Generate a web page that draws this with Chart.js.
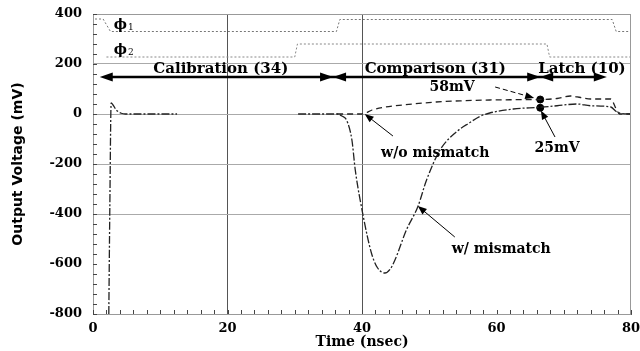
<!DOCTYPE html>
<html>
<head>
<meta charset="utf-8">
<script src="https://cdn.jsdelivr.net/npm/chart.js@4/dist/chart.umd.min.js"></script>
<style>
  body { margin: 0; background: #fff; }
  #wrap { width: 640px; height: 351px; }
</style>
</head>
<body>
<div id="wrap"><canvas id="chart"></canvas></div>
<script>
// Output of the comparator "w/ mismatch" (mV vs nsec)
const wmTime = [2.35, 2.5, 2.7, 3.0, 3.5, 4.2, 4.8, 12.5, 12.6, 30.5, 36.3, 37.0, 37.7, 38.5, 39.0, 40.2, 41.4, 42.3, 43.4, 44.2, 44.9, 46.6, 48.3, 49.6, 51.6, 54.1, 56.0, 57.5, 59.0, 62.5, 66.5, 69.0, 72.0, 74.0, 77.0, 77.8, 78.5, 80.0];
const wmVolt = [-800, -380, 44, 35, 15, 3, 0, 0, null, 0, 0, -8, -24, -104, -224, -411, -556, -615, -636, -620, -584, -464, -371, -264, -144, -70, -35, -10, 4, 20, 27, 33, 40, 33, 28, 10, 2, 0];

// "w/o mismatch"
const womTime = [36.3, 40.0, 41.5, 43.5, 46.0, 51.0, 55.0, 59.0, 62.0, 66.5, 69.0, 71.0, 72.5, 74.0, 77.0, 77.8, 78.3, 80.0];
const womVolt = [0, 0, 16, 28, 36, 48, 53, 56, 57, 58, 62, 72, 66, 60, 60, 20, 0, 0];

// clock phases (drawn on the voltage axis)
const phi1Time = [0.3, 1.5, 2.6, 36.2, 36.7, 77.2, 77.8, 80];
const phi1Volt = [380, 380, 330, 330, 378, 378, 330, 330];
const phi2Time = [2.0, 30.0, 30.4, 67.5, 67.9, 80];
const phi2Volt = [228, 228, 280, 280, 228, 228];

// sampled values at end of comparison
const markTime = [66.5, 66.5];
const markVolt = [58, 25];

// phase bars
const phaseBounds = [1, 35.7, 66.5, 76.4];
const phaseLevel = 148;
const phaseNames = ["Calibration (34)", "Comparison (31)", "Latch (10)"];
const phaseLabelTime = [19.0, 50.9, 72.7];
const phaseLabelVolt = 180;

const yMajor = [200, 0, -200, -400];
const xMajor = [20, 40];

function pts(t, v) {
    return t.map((x, i) => ({ x: x, y: v[i] }));
}

// text annotations: [text, time, volt]
const notes = [
    ["58mV", 53.4, 108],
    ["25mV", 69.0, -136],
    ["w/o mismatch", 50.9, -156],
    ["w/ mismatch", 60.7, -540],
];
// pointer arrows: [fromTime, fromVolt, toTime, toVolt, dashed]
const pointers = [
    [59.8, 108, 65.6, 64, true],
    [68.7, -92, 66.6, 14, false],
    [44.6, -88, 40.4, 0, false],
    [53.8, -492, 48.3, -368, false],
];

const serif = '"DejaVu Serif", "Liberation Serif", serif';

function head(ctx, x, y, ang, len, hw) {
    ctx.save();
    ctx.translate(x, y);
    ctx.rotate(ang);
    ctx.beginPath();
    ctx.moveTo(0, 0);
    ctx.lineTo(-len, -hw);
    ctx.lineTo(-len, hw);
    ctx.closePath();
    ctx.fill();
    ctx.restore();
}

const overlay = {
    id: "overlay",
    afterDraw(chart) {
        const { ctx, chartArea: a, scales: { x, y } } = chart;
        ctx.save();

        // frame
        ctx.strokeStyle = "#999";
        ctx.lineWidth = 1;
        ctx.strokeRect(a.left + 0.5, a.top + 0.5, a.right - a.left - 1, a.bottom - a.top);

        // inside tick marks
        ctx.strokeStyle = "#444";
        ctx.beginPath();
        x.ticks.forEach(t => {
            const px = Math.round(x.getPixelForValue(t.value)) + 0.5;
            ctx.moveTo(px, a.bottom);
            ctx.lineTo(px, a.bottom - 4);
        });
        y.ticks.forEach(t => {
            const py = Math.round(y.getPixelForValue(t.value)) + 0.5;
            ctx.moveTo(a.left, py);
            ctx.lineTo(a.left + 4, py);
        });
        ctx.stroke();

        // phase arrows
        const py = y.getPixelForValue(phaseLevel);
        const bx = phaseBounds.map(v => x.getPixelForValue(v));
        ctx.strokeStyle = "#000";
        ctx.fillStyle = "#000";
        ctx.lineWidth = 2.5;
        ctx.beginPath();
        ctx.moveTo(bx[0] + 6, py);
        ctx.lineTo(bx[bx.length - 1] - 6, py);
        ctx.stroke();
        for (let i = 0; i < bx.length - 1; i++) {
            head(ctx, bx[i], py, Math.PI, 13, 4.5);
            head(ctx, bx[i + 1], py, 0, 13, 4.5);
        }

        ctx.font = "bold 15px " + serif;
        ctx.textAlign = "center";
        ctx.textBaseline = "middle";
        phaseNames.forEach((n, i) => {
            ctx.fillText(n, x.getPixelForValue(phaseLabelTime[i]), y.getPixelForValue(phaseLabelVolt));
        });

        // phase labels
        const lx = x.getPixelForValue(3.1);
        [["\u03d5", "1", 356], ["\u03d5", "2", 256]].forEach(p => {
            const ly = y.getPixelForValue(p[2]);
            ctx.textAlign = "left";
            ctx.font = "bold 14px " + serif;
            ctx.fillText(p[0], lx, ly);
            const w = ctx.measureText(p[0]).width;
            ctx.font = "9px " + serif;
            ctx.fillText(p[1], lx + w + 1, ly + 3);
        });

        // notes
        ctx.font = "bold 14px " + serif;
        ctx.textAlign = "center";
        notes.forEach(n => {
            ctx.fillText(n[0], x.getPixelForValue(n[1]), y.getPixelForValue(n[2]));
        });

        // pointers
        ctx.lineWidth = 1;
        pointers.forEach(p => {
            const x0 = x.getPixelForValue(p[0]), y0 = y.getPixelForValue(p[1]);
            const x1 = x.getPixelForValue(p[2]), y1 = y.getPixelForValue(p[3]);
            const ang = Math.atan2(y1 - y0, x1 - x0);
            ctx.setLineDash(p[4] ? [5, 3] : []);
            ctx.beginPath();
            ctx.moveTo(x0, y0);
            ctx.lineTo(x1 - 6 * Math.cos(ang), y1 - 6 * Math.sin(ang));
            ctx.stroke();
            ctx.setLineDash([]);
            head(ctx, x1, y1, ang, 9, 3.5);
        });

        ctx.restore();
    }
};

const ctx = document.getElementById("chart").getContext("2d");
new Chart(ctx, {
    type: "line",
    data: {
        datasets: [
            {
                label: "w/ mismatch",
                data: pts(wmTime, wmVolt),
                borderColor: "#222",
                borderWidth: 1.3,
                borderDash: [8, 2, 2, 2],
                cubicInterpolationMode: "monotone",
                pointRadius: 0,
                spanGaps: false,
            },
            {
                label: "w/o mismatch",
                data: pts(womTime, womVolt),
                borderColor: "#222",
                borderWidth: 1.3,
                borderDash: [6, 4],
                cubicInterpolationMode: "monotone",
                pointRadius: 0,
            },
            {
                label: "phi1",
                data: pts(phi1Time, phi1Volt),
                borderColor: "#777",
                borderWidth: 1,
                borderDash: [2, 2],
                pointRadius: 0,
            },
            {
                label: "phi2",
                data: pts(phi2Time, phi2Volt),
                borderColor: "#888",
                borderWidth: 1,
                borderDash: [2, 2],
                pointRadius: 0,
            },
            {
                label: "samples",
                data: pts(markTime, markVolt),
                showLine: false,
                pointRadius: 3.5,
                pointBackgroundColor: "#000",
                pointBorderColor: "#000",
            },
        ],
    },
    options: {
        responsive: true,
        maintainAspectRatio: false,
        animation: false,
        layout: { padding: { top: 14, right: 9, left: 0, bottom: 0 } },
        plugins: {
            legend: { display: false },
            tooltip: { enabled: false },
        },
        scales: {
            x: {
                type: "linear",
                min: 0,
                max: 80,
                afterFit: s => { s.height = 37; s.paddingLeft = 0; s.paddingRight = 0; },
                ticks: {
                    stepSize: 2,
                    autoSkip: false,
                    maxRotation: 0,
                    padding: 7,
                    color: "#000",
                    font: { family: serif, size: 13, weight: "bold" },
                    callback: v => (v % 20 === 0 ? v : ""),
                },
                grid: {
                    drawTicks: false,
                    color: c => (xMajor.includes(c.tick.value) ? "#555" : "rgba(0,0,0,0)"),
                },
                border: { color: "#555" },
                title: {
                    display: true,
                    text: "Time (nsec)",
                    color: "#000",
                    padding: { top: 0, bottom: 0 },
                    font: { family: serif, size: 14, weight: "bold" },
                },
            },
            y: {
                min: -800,
                max: 400,
                afterFit: s => { s.width = 93; s.paddingTop = 0; s.paddingBottom = 0; },
                ticks: {
                    stepSize: 40,
                    autoSkip: false,
                    padding: 11,
                    color: "#000",
                    font: { family: serif, size: 13, weight: "bold" },
                    callback: v => (v % 200 === 0 ? v : ""),
                },
                grid: {
                    drawTicks: false,
                    color: c => (yMajor.includes(c.tick.value) ? "#aaa" : "rgba(0,0,0,0)"),
                },
                border: { color: "#555" },
                title: {
                    display: true,
                    text: "Output Voltage (mV)",
                    color: "#000",
                    padding: { top: 10, bottom: 0 },
                    font: { family: '"DejaVu Sans", sans-serif', size: 14, weight: "bold" },
                },
            },
        },
    },
    plugins: [overlay],
});
</script>
</body>
</html>
